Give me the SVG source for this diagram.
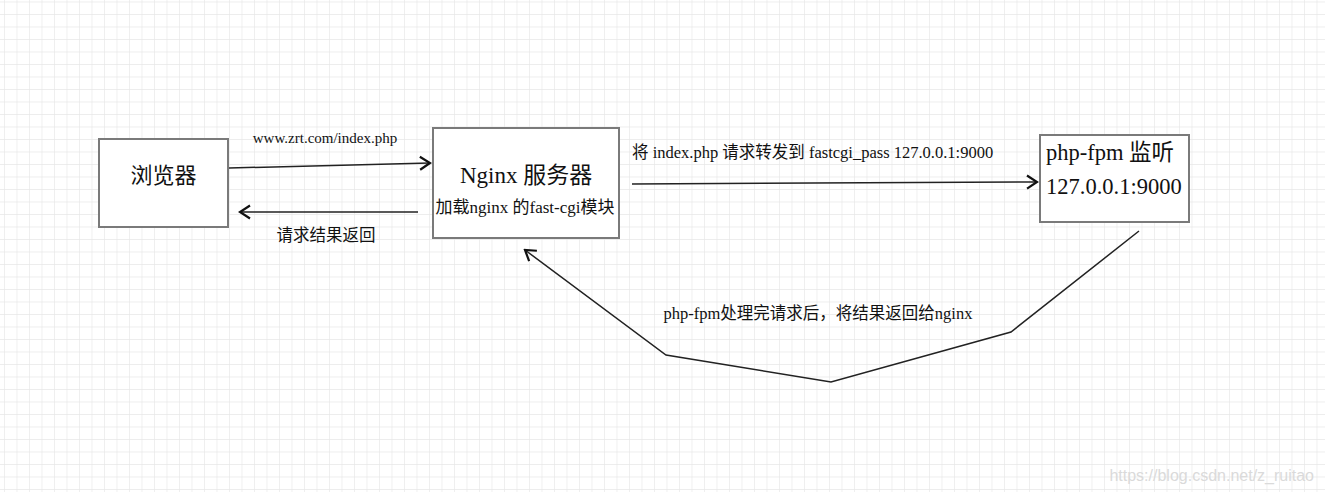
<svg xmlns="http://www.w3.org/2000/svg" width="1325" height="492" viewBox="0 0 1325 492">
<style>
.box{fill:#fff;stroke:#7a7a7a;stroke-width:2}
.edge{fill:none;stroke:#222;stroke-width:1.5}
.serif{font-family:"Liberation Serif","Noto Sans CJK SC",serif;fill:#111}
.sans{font-family:"Noto Sans CJK SC","Liberation Sans",sans-serif;fill:#111}
.wm{font-family:"Liberation Sans",sans-serif;font-size:16px;fill:#dadada}
</style>
<defs>
<pattern id="grid" x="4" y="1.5" width="12.5" height="12.5" patternUnits="userSpaceOnUse">
<path d="M0,0 V12.5 M0,0 H12.5" fill="none" stroke="#e8e8e8" stroke-width="1.3"/>
</pattern>
<marker id="arr" viewBox="-12 -8 14 16" refX="0" refY="0" markerWidth="14" markerHeight="16" markerUnits="userSpaceOnUse" orient="auto">
<path d="M-10,-6.5 L0,0 L-10,6.5" fill="none" stroke="#111" stroke-width="2.2"/>
</marker>
</defs>
<rect width="1325" height="492" fill="#fff"/>
<rect width="1325" height="492" fill="url(#grid)"/>

<g id="connectors">
<path class="edge" d="M229,168 L430,163" marker-end="url(#arr)"/>
<path class="edge" d="M418,212 L240,212" marker-end="url(#arr)"/>
<path class="edge" d="M632,184 L1037,182" marker-end="url(#arr)"/>
<path class="edge" stroke="#333" d="M1139,231 L1011,332 L831,382 L666,355 L525,250" marker-end="url(#arr)"/>
<text class="serif" x="325" y="143" font-size="15" text-anchor="middle">www.zrt.com/index.php</text>
<text class="sans" x="326" y="241" font-size="16.5" text-anchor="middle">请求结果返回</text>
<text class="serif" x="632" y="158" font-size="16.5">将 index.php 请求转发到 fastcgi_pass 127.0.0.1:9000</text>
<text class="serif" x="818" y="319" font-size="16.5" text-anchor="middle">php-fpm处理完请求后，将结果返回给nginx</text>
</g>

<g id="browser">
<rect class="box" x="99" y="139" width="129" height="88"/>
<text class="sans" x="163.5" y="183" font-size="22" text-anchor="middle">浏览器</text>
</g>

<g id="nginx">
<rect class="box" x="433" y="128" width="186" height="110"/>
<text class="serif" x="526" y="183" font-size="23" text-anchor="middle">Nginx 服务器</text>
<text class="serif" x="525" y="213" font-size="17" text-anchor="middle">加载nginx 的fast-cgi模块</text>
</g>

<g id="phpfpm">
<rect class="box" x="1040" y="135" width="149" height="87"/>
<text class="serif" x="1046" y="160" font-size="22.5">php-fpm 监听</text>
<text class="serif" x="1046" y="194" font-size="22.5">127.0.0.1:9000</text>
</g>

<text class="wm" x="1314" y="481" text-anchor="end">https://blog.csdn.net/z_ruitao</text>
</svg>
